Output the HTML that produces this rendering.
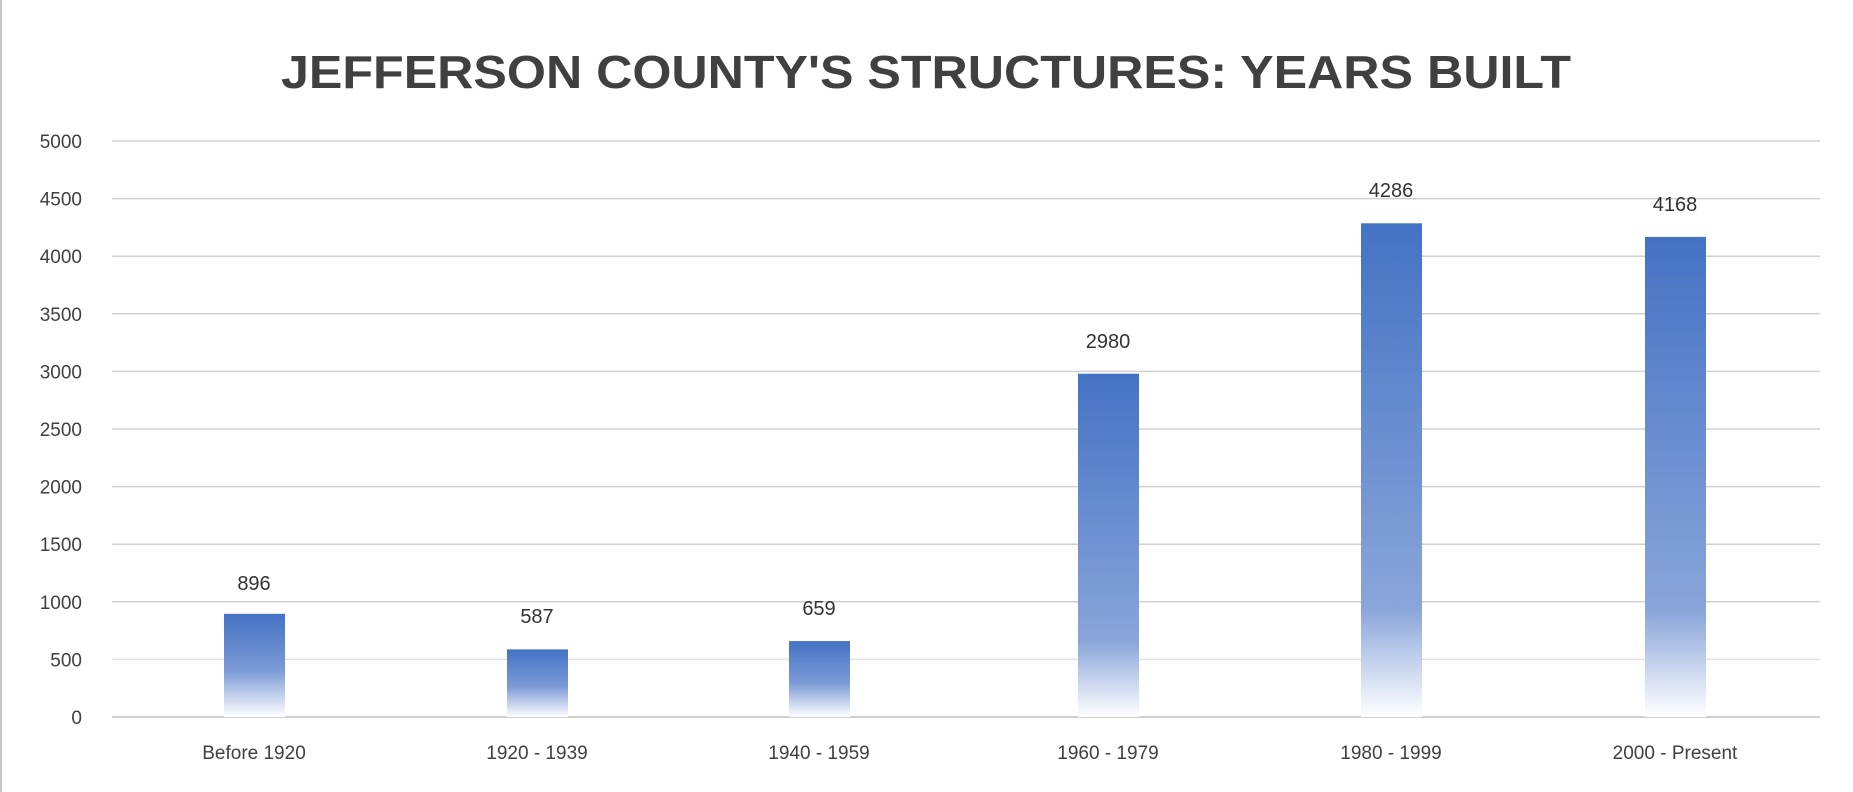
<!DOCTYPE html>
<html><head><meta charset="utf-8"><style>
html,body{margin:0;padding:0;background:#fff;}
svg{display:block;font-family:"Liberation Sans",sans-serif;}
</style></head><body>
<svg width="1853" height="792" viewBox="0 0 1853 792" xmlns="http://www.w3.org/2000/svg">
<defs>
<linearGradient id="g" x1="0" y1="0" x2="0" y2="1">
<stop offset="0" stop-color="#4472C4"/>
<stop offset="0.78" stop-color="#8aa5da"/>
<stop offset="1" stop-color="#ffffff"/>
</linearGradient>
<linearGradient id="gs" x1="0" y1="0" x2="0" y2="1">
<stop offset="0" stop-color="#4472C4"/>
<stop offset="0.55" stop-color="#7c9ad6"/>
<stop offset="1" stop-color="#ffffff"/>
</linearGradient>
</defs>
<rect x="0" y="0" width="1853" height="792" fill="#fff"/>
<line x1="1" y1="0" x2="1" y2="792" stroke="#c8c8c8" stroke-width="2"/>
<text x="926" y="88" text-anchor="middle" font-size="46" font-weight="bold" fill="#404040" textLength="1290" lengthAdjust="spacingAndGlyphs">JEFFERSON COUNTY'S STRUCTURES: YEARS BUILT</text>
<g stroke="#d0d0d0" stroke-width="1.5">
<line x1="112" y1="141" x2="1820" y2="141"/>
<line x1="112" y1="198.6" x2="1820" y2="198.6"/>
<line x1="112" y1="256.2" x2="1820" y2="256.2"/>
<line x1="112" y1="313.8" x2="1820" y2="313.8"/>
<line x1="112" y1="371.4" x2="1820" y2="371.4"/>
<line x1="112" y1="429" x2="1820" y2="429"/>
<line x1="112" y1="486.6" x2="1820" y2="486.6"/>
<line x1="112" y1="544.2" x2="1820" y2="544.2"/>
<line x1="112" y1="601.8" x2="1820" y2="601.8"/>
</g>
<line x1="112" y1="717" x2="1820" y2="717" stroke="#c0c0c0" stroke-width="1.5"/>
<line x1="112" y1="659.4" x2="1820" y2="659.4" stroke="#e2e2e2" stroke-width="1.5"/>
<g font-size="19" fill="#404040" text-anchor="end">
<text x="82" y="148">5000</text>
<text x="82" y="205.6">4500</text>
<text x="82" y="263.2">4000</text>
<text x="82" y="320.8">3500</text>
<text x="82" y="378.4">3000</text>
<text x="82" y="436">2500</text>
<text x="82" y="493.6">2000</text>
<text x="82" y="551.2">1500</text>
<text x="82" y="608.8">1000</text>
<text x="82" y="666.4">500</text>
<text x="82" y="724">0</text>
</g>
<g>
<rect x="224" y="613.8" width="61" height="103.2" fill="url(#gs)"/>
<rect x="507" y="649.4" width="61" height="67.6" fill="url(#gs)"/>
<rect x="789" y="641.1" width="61" height="75.9" fill="url(#gs)"/>
<rect x="1078" y="373.7" width="61" height="343.3" fill="url(#g)"/>
<rect x="1361" y="223.3" width="61" height="493.7" fill="url(#g)"/>
<rect x="1645" y="236.9" width="61" height="480.1" fill="url(#g)"/>
</g>
<g font-size="20" fill="#333" text-anchor="middle">
<text x="254" y="590">896</text>
<text x="537" y="623">587</text>
<text x="819" y="615">659</text>
<text x="1108" y="348">2980</text>
<text x="1391" y="197">4286</text>
<text x="1675" y="211">4168</text>
</g>
<g font-size="19" fill="#404040" text-anchor="middle">
<text x="254" y="759">Before 1920</text>
<text x="537" y="759">1920 - 1939</text>
<text x="819" y="759">1940 - 1959</text>
<text x="1108" y="759">1960 - 1979</text>
<text x="1391" y="759">1980 - 1999</text>
<text x="1675" y="759">2000 - Present</text>
</g>
</svg>
</body></html>
